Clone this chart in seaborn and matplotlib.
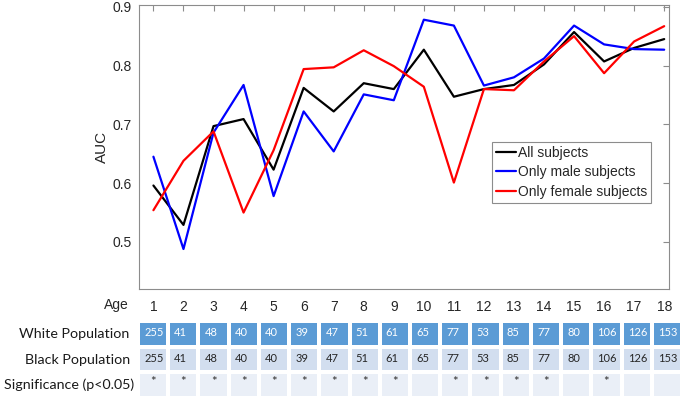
import numpy as np
import pandas as pd
import matplotlib
matplotlib.use("Agg")
import matplotlib.pyplot as plt
from matplotlib.colors import ListedColormap
from matplotlib.transforms import ScaledTranslation
import seaborn as sns

# datos
edades = list(range(1, 19))
auc_todos = [0.596, 0.529, 0.697, 0.709, 0.623, 0.762, 0.722, 0.770, 0.760,
             0.827, 0.747, 0.760, 0.767, 0.802, 0.857, 0.807, 0.830, 0.845]
auc_hombres = [0.645, 0.488, 0.686, 0.767, 0.578, 0.722, 0.654, 0.751, 0.741,
               0.878, 0.868, 0.766, 0.780, 0.812, 0.868, 0.836, 0.828, 0.827]
auc_mujeres = [0.554, 0.638, 0.688, 0.550, 0.656, 0.794, 0.797, 0.826, 0.799,
               0.764, 0.601, 0.760, 0.758, 0.807, 0.850, 0.787, 0.841, 0.867]
series = ["All subjects", "Only male subjects", "Only female subjects"]
colores = ["black", "#0000ff", "#ff0000"]

poblacion_blanca = [255, 41, 48, 40, 40, 39, 47, 51, 61, 65, 77, 53, 85, 77, 80, 106, 126, 153]
poblacion_negra = [255, 41, 48, 40, 40, 39, 47, 51, 61, 65, 77, 53, 85, 77, 80, 106, 126, 153]
significancia = [1, 1, 1, 1, 1, 1, 1, 1, 1, 0, 1, 1, 1, 1, 0, 1, 0, 0]
filas_tabla = ["White Population", "Black Population", "Significance (p<0.05)"]
colores_tabla = ["#5b9bd5", "#d2deef", "#eaeff7"]

df = pd.DataFrame({
    "Age": edades * 3,
    "AUC": auc_todos + auc_hombres + auc_mujeres,
    "grupo": [s for s in series for _ in edades],
})

sns.set_theme(style="white")
plt.rcParams["font.family"] = ["Liberation Sans", "DejaVu Sans"]

fig = plt.figure(figsize=(6.85, 3.99), dpi=100)
W, H = 685, 399
ax = fig.add_axes([139 / W, 1 - 289 / H, 530.3 / W, 284 / H])

sns.lineplot(data=df, x="Age", y="AUC", hue="grupo", hue_order=series,
             palette=colores, linewidth=1.6, ax=ax)

ax.set_xlim(0.52, 18.17)
ax.set_ylim(0.42, 0.903)
ax.set_xticks(edades)
ax.set_yticks([0.5, 0.6, 0.7, 0.8, 0.9])
ax.set_yticklabels(["0.5", "0.6", "0.7", "0.8", "0.9"])
ax.tick_params(axis="both", direction="in", length=4, width=0.8, color="#8c8c8c",
               labelsize=10, labelcolor="#262626", top=True, right=True)
ax.tick_params(axis="x", pad=8)
ax.tick_params(axis="y", pad=5)
for lado in ax.spines.values():
    lado.set_color("#8c8c8c")
    lado.set_linewidth(0.8)
ax.set_xlabel("")
ax.set_ylabel("AUC", fontsize=11, color="#262626")
ax.yaxis.set_label_coords(-0.056, 0.5)
ax.text(-0.019, -0.056, "Age", transform=ax.transAxes, ha="right", va="center",
        fontsize=10, color="#262626")

leg = ax.legend(loc="upper left", bbox_to_anchor=(0.666, 0.518), borderaxespad=0,
                fontsize=10, handlelength=1.45, handletextpad=0.1, labelspacing=0.38,
                borderpad=0.3, fancybox=False, framealpha=1)
leg.get_frame().set_edgecolor("#8c8c8c")
leg.get_frame().set_linewidth(0.8)

# tabla de población bajo el gráfico
tabla = fig.add_axes([138 / W, 1 - 398 / H, 544 / W, 77 / H])
valores = np.array([[0] * 18, [1] * 18, [2] * 18])
textos = np.array([[str(v) for v in poblacion_blanca],
                   [str(v) for v in poblacion_negra],
                   ["*" if s else "" for s in significancia]])
sns.heatmap(valores, cmap=ListedColormap(colores_tabla), vmin=-0.5, vmax=2.5,
            annot=textos, fmt="", cbar=False, linewidths=1.5, linecolor="white",
            xticklabels=False, yticklabels=filas_tabla, ax=tabla,
            annot_kws={"fontsize": 8, "family": ["Lato", "DejaVu Sans"]})
for t in tabla.texts:
    x, y = t.get_position()
    if t.get_text() == "*":
        t.set_position((x, y - 0.12))
        t.set_fontsize(9.5)
        t.set_color("#333333")
    else:
        t.set_position((x - 0.5 + 0.2, y - 0.05))
        t.set_ha("left")
tabla.tick_params(axis="y", length=0, pad=6, labelsize=10.3, labelcolor="#1a1a1a")
for lab in tabla.get_yticklabels():
    lab.set_rotation(0)
    lab.set_family(["Lato", "DejaVu Sans"])
    if lab.get_text().startswith("Significance"):
        lab.set_transform(lab.get_transform() + ScaledTranslation(4 / 100, 0, fig.dpi_scale_trans))

plt.savefig("out.png", dpi=100)
plt.close()
